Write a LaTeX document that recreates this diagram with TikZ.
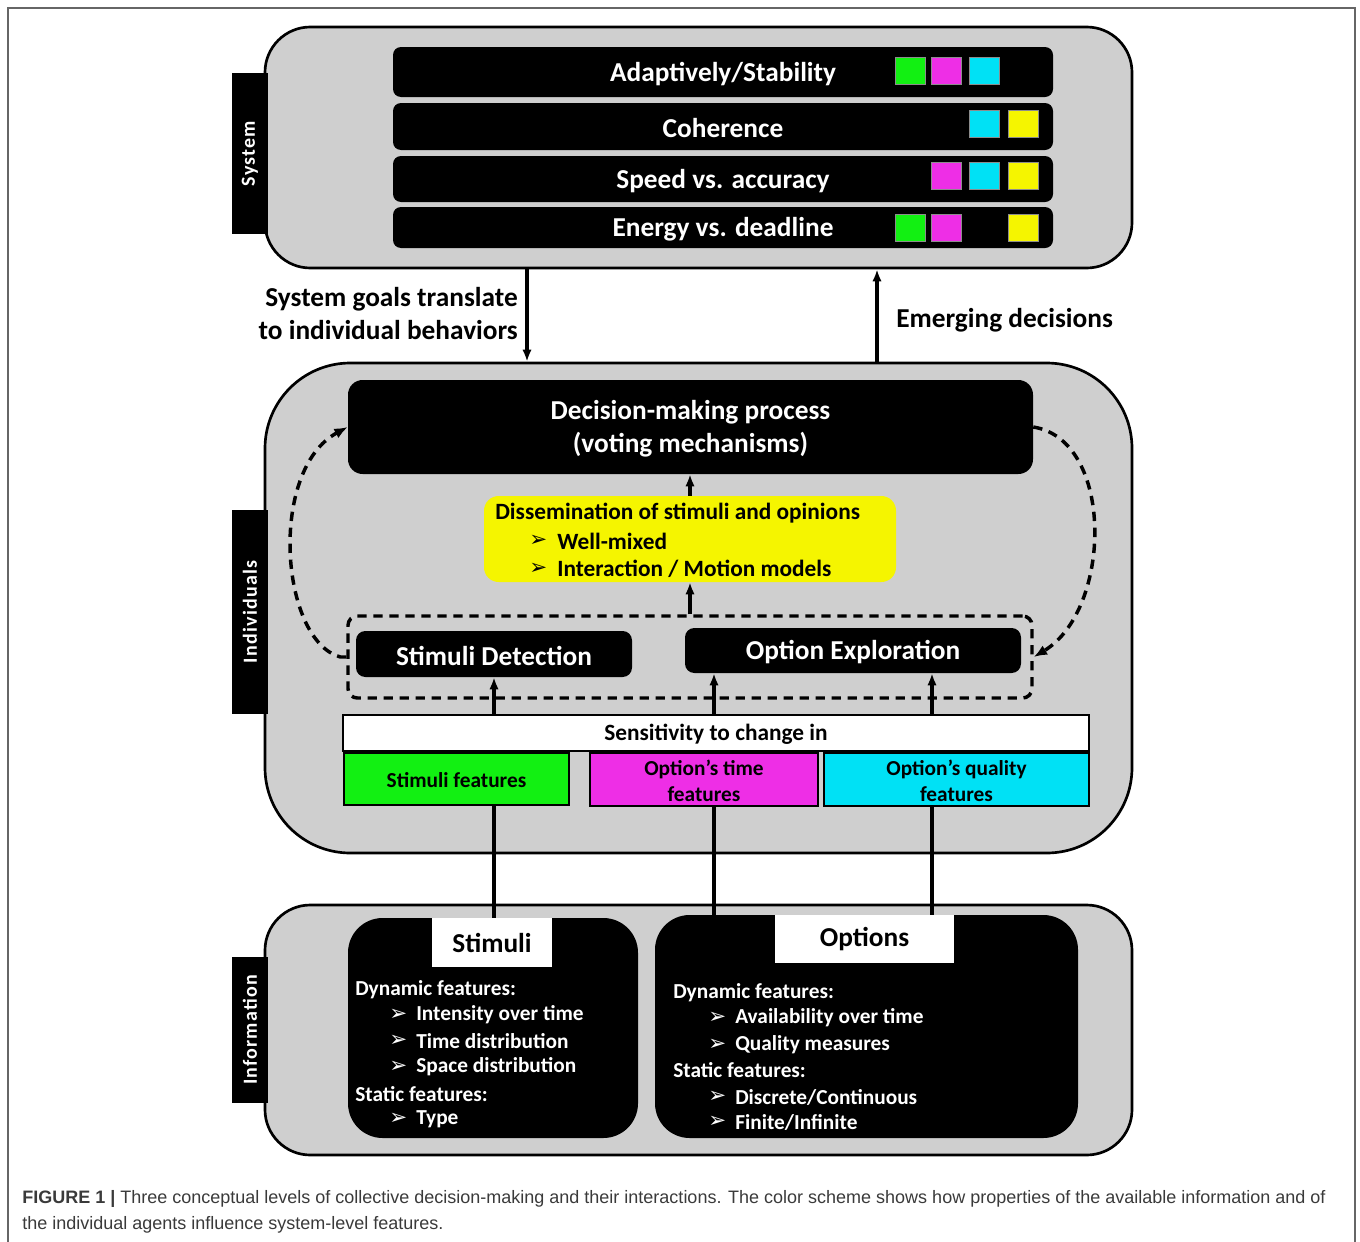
\documentclass[tikz,border=0pt]{standalone}
\usepackage{fontspec}
\setmainfont{Carlito}
\newfontfamily\capfont{Liberation Sans}
\newfontfamily\symfont{DejaVu Sans}
\newfontfamily\tabfont[LetterSpace=6]{Carlito}
\usetikzlibrary{fit,arrows.meta}
\definecolor{panel}{HTML}{CFCFCF}
\definecolor{cgreen}{HTML}{12F012}
\definecolor{cmag}{HTML}{EE2EE6}
\definecolor{ccyan}{HTML}{00E1F5}
\definecolor{cyel}{HTML}{F5F500}
\definecolor{captxt}{HTML}{3A3A3A}
\begin{document}
\begin{tikzpicture}[x=0.75pt,y=-0.75pt,
  big/.style={font=\bfseries\fontsize{20.5}{24.75}\selectfont},
  mid/.style={font=\bfseries\fontsize{17.5}{21}\selectfont},
  small/.style={font=\bfseries\fontsize{16}{19}\selectfont},
  panelbox/.style={draw=black, line width=2pt, fill=panel, inner sep=0pt},
  tabbox/.style={fill=black, inner sep=0pt},
  tabtext/.style={text=white, rotate=90, inner sep=0pt, font=\tabfont\bfseries\fontsize{15}{18}\selectfont},
  blackbox/.style={fill=black, rounded corners=6pt, inner sep=0pt},
  wlabel/.style={text=white, inner sep=0pt, align=center, yshift=-1.5pt, big},
  sq/.style={inner sep=0pt, minimum width=22.5pt, minimum height=20pt, draw=black!45, line width=0.5pt},
  feat/.style={draw=black, line width=1pt, inner sep=0pt},
  ftxt/.style={inner sep=0pt, align=center, yshift=-1pt, font=\bfseries\fontsize{16}{19}\selectfont},
  arr/.style={line width=2.4pt, -{Latex[length=9pt,width=7pt]}},
  plainlink/.style={line width=2.4pt},
  dashline/.style={line width=2.6pt, dash pattern=on 7pt off 5pt},
  wtxt/.style={text=white, anchor=west, inner sep=0pt, small},
  bul/.style={text=white, anchor=west, inner sep=0pt, font=\symfont\fontsize{16}{18}\selectfont},
  ybul/.style={anchor=west, inner sep=0pt, font=\symfont\fontsize{16}{18}\selectfont},
]
\useasboundingbox (0,0) rectangle (1360,1242);
\draw[draw=black!60, line width=0.9pt] (8,1250) -- (8,8) -- (1355,8) -- (1355,1250);

% ---------- System ----------
\node[panelbox, rounded corners=34pt, fit={(265,27)(1132,268)}] (sys) {};
\node[tabbox, fit={(232,73)(268,234)}] (systab) {};
\node[tabtext] (systabtxt) at (systab.center) {System};

\node[blackbox, fit={(393,47)(1053,97)}] (r1) {};
\node[wlabel] (r1t) at (r1.center) {Adaptively/Stability};
\node[blackbox, fit={(393,103)(1053,150)}] (r2) {};
\node[wlabel] (r2t) at (r2.center) {Coherence};
\node[blackbox, fit={(393,156)(1053,202)}] (r3) {};
\node[wlabel] (r3t) at (r3.center) {Speed vs. accuracy};
\node[blackbox, fit={(393,207)(1053,248)}] (r4) {};
\node[wlabel] (r4t) at (r4.center) {Energy vs. deadline};

\node[sq, fill=cgreen] (s11) at (910,71) {};
\node[sq, fill=cmag]   (s12) at (946,71) {};
\node[sq, fill=ccyan]  (s13) at (984,71) {};
\node[sq, fill=ccyan]  (s23) at (984,124) {};
\node[sq, fill=cyel]   (s24) at (1023,124) {};
\node[sq, fill=cmag]   (s32) at (946,176) {};
\node[sq, fill=ccyan]  (s33) at (984,176) {};
\node[sq, fill=cyel]   (s34) at (1023,176) {};
\node[sq, fill=cgreen] (s41) at (910,228) {};
\node[sq, fill=cmag]   (s42) at (946,228) {};
\node[sq, fill=cyel]   (s44) at (1023,228) {};

% ---------- Individuals ----------
\node[panelbox, rounded corners=64pt, fit={(265,363)(1132,853)}] (ind) {};
\node[tabbox, fit={(232,510)(268,714)}] (indtab) {};
\node[tabtext] (indtabtxt) at (indtab.center) {Individuals};

\coordinate (gA) at (527,0);
\coordinate (gB) at (877,0);
\draw[arr] (gA |- sys.south) -- (gA |- ind.north);
\draw[arr] (gB |- ind.north) -- (gB |- sys.south);
\node[big, anchor=east, align=right, inner sep=0pt] (goals) at (518,314) {System goals translate\\to individual behaviors};
\node[big, anchor=west, inner sep=0pt] (emerg) at (896,320) {Emerging decisions};

\node[blackbox, rounded corners=11pt, fit={(348,380)(1033,474)}] (dec) {};
\node[wlabel] (dect) at (dec.center) {Decision-making process\\(voting mechanisms)};

\node[fill=cyel, rounded corners=11pt, inner sep=0pt, fit={(484,496)(896,582)}] (yel) {};
\node[mid, anchor=west, inner sep=0pt] (yt1) at (495,513) {Dissemination of stimuli and opinions};
\node[ybul] (yb1) at (529,541) {➢};
\node[mid, anchor=west, inner sep=0pt] (yt2) at (557,541) {Well-mixed};
\node[ybul] (yb2) at (529,569) {➢};
\node[mid, anchor=west, inner sep=0pt] (yt3) at (557,569) {Interaction / Motion models};

\node[draw=black, dashline, rounded corners=7pt, inner sep=0pt, fit={(348,616)(1032,698)}] (dbox) {};
\node[blackbox, rounded corners=7pt, fit={(356,631)(632,677)}] (sd) {};
\node[wlabel] (sdt) at (sd.center) {Stimuli Detection};
\node[blackbox, rounded corners=7pt, fit={(685,628)(1021,673)}] (oe) {};
\node[wlabel] (oet) at (oe.center) {Option Exploration};

\draw[arr] (yel.north) -- (yel.north |- dec.south);
\draw[arr] (dbox.north) -- (dbox.north |- yel.south);

\draw[dashline, -{Latex[length=10pt,width=8pt]}] (dbox.west) -- ++(-6,0) .. controls (280,640) and (268,470) .. (dec.west);
\draw[dashline, -{Latex[length=10pt,width=8pt]}] (dec.east) .. controls (1115,440) and (1112,610) .. (dbox.east);

\node[draw=black, line width=1.2pt, fill=white, inner sep=0pt, fit={(343,715)(1089,751)}] (sens) {};
\node[mid, inner sep=0pt, yshift=-1pt] (senst) at (sens.center) {Sensitivity to change in};
\node[feat, fill=cgreen, fit={(344,753)(569,805)}] (fg) {};
\node[ftxt] (fgt) at (fg.center) {Stimuli features};
\node[feat, fill=cmag, fit={(590,753)(818,806)}] (fm) {};
\node[ftxt] (fmt) at (fm.center) {Option’s time\\features};
\node[feat, fill=ccyan, fit={(824,753)(1089,806)}] (fc) {};
\node[ftxt] (fct) at (fc.center) {Option’s quality\\features};

\coordinate (c1) at (494,0);
\coordinate (c2) at (714,0);
\coordinate (c3) at (932,0);
\draw[arr] (c1 |- sens.north) -- (c1 |- sd.south);
\draw[arr] (c2 |- sens.north) -- (c2 |- oe.south);
\draw[arr] (c3 |- sens.north) -- (c3 |- oe.south);

% ---------- Information ----------
\node[panelbox, rounded corners=34pt, fit={(265,905)(1132,1155)}] (inf) {};
\node[tabbox, fit={(232,957)(268,1103)}] (inftab) {};
\node[tabtext] (inftabtxt) at (inftab.center) {Information};

\node[fill=black, rounded corners=26pt, inner sep=0pt, fit={(348,918)(638,1138)}] (stb) {};
\node[fill=white, inner sep=0pt, fit={(432,918)(552,967)}] (stt) {};
\node[big, inner sep=0pt] (sttt) at (stt.center) {Stimuli};
\node[fill=black, rounded corners=26pt, inner sep=0pt, fit={(655,915)(1078,1138)}] (opb) {};
\node[fill=white, inner sep=0pt, fit={(775,915)(954,963)}] (opt) {};
\node[big, inner sep=0pt] (optt) at (opt.center) {Options};

\draw[plainlink] (c1 |- fg.south) -- (c1 |- stt.north);
\draw[plainlink] (c2 |- fm.south) -- (c2 |- opb.north);
\draw[plainlink] (c3 |- fc.south) -- (c3 |- opt.north);

\node[wtxt] (sa) at (355,990) {Dynamic features:};
\node[bul] (sb1) at (389,1015) {➢};
\node[wtxt] (sa1) at (416,1015) {Intensity over time};
\node[bul] (sb2) at (389,1041) {➢};
\node[wtxt] (sa2) at (416,1041) {Time distribution};
\node[bul] (sb3) at (389,1067) {➢};
\node[wtxt] (sa3) at (416,1067) {Space distribution};
\node[wtxt] (sc) at (355,1094) {Static features:};
\node[bul] (sb4) at (389,1119) {➢};
\node[wtxt] (sc1) at (416,1119) {Type};

\node[wtxt] (oa) at (673,993) {Dynamic features:};
\node[bul] (ob1) at (708,1018) {➢};
\node[wtxt] (oa1) at (735,1018) {Availability over time};
\node[bul] (ob2) at (708,1045) {➢};
\node[wtxt] (oa2) at (735,1045) {Quality measures};
\node[wtxt] (oc) at (673,1070) {Static features:};
\node[bul] (ob3) at (708,1097) {➢};
\node[wtxt] (oc1) at (735,1097) {Discrete/Continuous};
\node[bul] (ob4) at (708,1122) {➢};
\node[wtxt] (oc2) at (735,1122) {Finite/Infinite};

% ---------- Caption ----------
\node[anchor=west, inner sep=0pt, text=captxt, font=\capfont\fontsize{13.5}{16}\selectfont] (cap1) at (22,1199) {\textbf{FIGURE 1 |} Three conceptual levels of collective decision-making and their interactions. The color scheme shows how properties of the available information and of};
\node[anchor=west, inner sep=0pt, text=captxt, font=\capfont\fontsize{13.5}{16}\selectfont] (cap2) at (22,1225) {the individual agents influence system-level features.};
\end{tikzpicture}
\end{document}
